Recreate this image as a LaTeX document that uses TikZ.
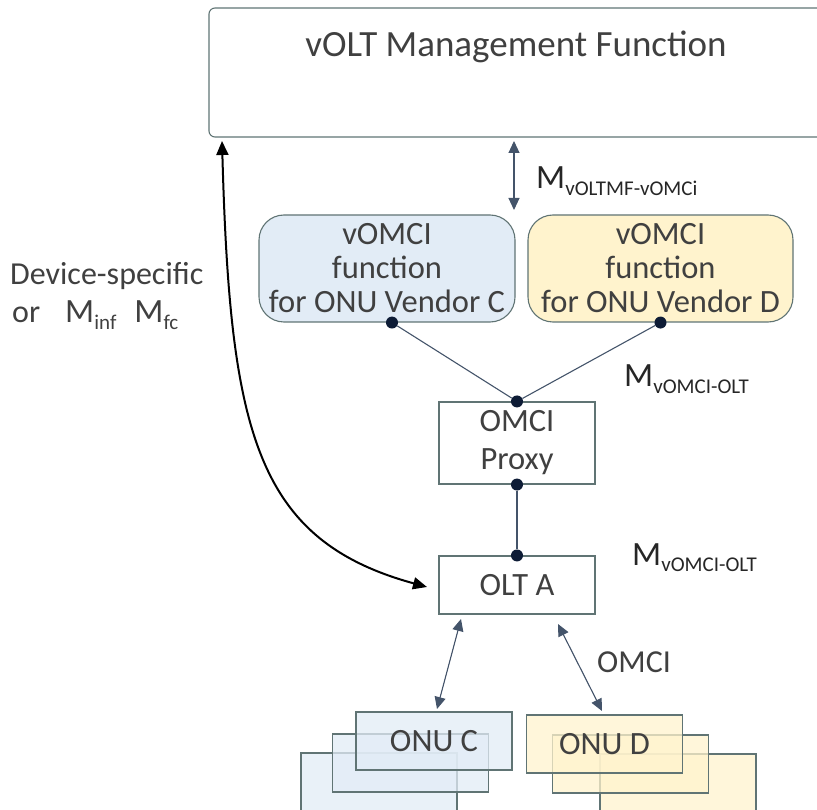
\documentclass[tikz,border=0pt]{standalone}
\usepackage{fontspec}
\setmainfont{Carlito}
\usepackage{tikz}
\usetikzlibrary{
	arrows.meta,
	positioning,
	calc
}
\definecolor{boxline}{RGB}{96,116,116}
\definecolor{bluefill}{RGB}{226,236,246}
\definecolor{yellowfill}{RGB}{255,243,205}
\definecolor{linkline}{RGB}{68,84,106}
\definecolor{navy}{RGB}{14,28,54}
\definecolor{txtgray}{RGB}{64,64,64}
\definecolor{txtdark}{RGB}{38,38,38}
% interface name with subscript
\newcommand{\ifname}[1]{M\raisebox{-0.2em}{\fontsize{21}{21}\selectfont #1}}

\begin{document}
\begin{tikzpicture}[
				x=1pt, y=-1pt,
				box/.style={
					rectangle, draw=boxline, line width=1.1pt,
					text=txtgray, align=center, inner sep=0pt,
					font=\fontsize{32.5}{38}\selectfont
				},
				vomcibox/.style={
					box, rounded corners=25pt,
					minimum width=256pt, minimum height=107pt,
					font=\fontsize{32.5}{34}\selectfont
				},
				smallbox/.style={
					box, fill=white,
					minimum width=156pt
				},
				onubox/.style={
					box, fill opacity=0.75, text opacity=1,
					minimum width=156pt, minimum height=58pt
				},
				dot/.style={
					circle, fill=navy, minimum size=12pt, inner sep=0pt
				},
				link/.style={draw=linkline, line width=1.1pt},
				dblarrow/.style={{Triangle[width=11pt,length=12pt]}-{Triangle[width=11pt,length=12pt]}, draw=linkline, fill=navy, line width=1.1pt},
				bigarrow/.style={{Triangle[width=12pt,length=14pt]}-{Triangle[width=12pt,length=14pt]}, black, line width=2pt},
				lbl/.style={anchor=base west, inner sep=0pt, text=txtdark,
					font=\fontsize{34}{37}\selectfont}
				]
				\useasboundingbox (0,0) rectangle (817,810);
				
				% vOLT management function
				\node[box, rounded corners=6pt, minimum width=626pt, minimum height=129pt] (mgmt) at (522,72.5) {};
				\node[anchor=base, inner sep=0pt, text=txtgray, font=\fontsize{37}{40}\selectfont] (mgmttitle) at (516,57) {vOLT Management Function};
				
				% vOMCI functions
				\node[vomcibox, fill=bluefill] (vomcic) at (387,268.5) {vOMCI\\function\\for ONU Vendor C};
				\node[vomcibox, fill=yellowfill, minimum width=265pt] (vomcid) at (660.5,268.5) {vOMCI\\function\\for ONU Vendor D};
				
				% proxy and OLT
				\node[smallbox, minimum height=82pt] (proxy) at (517,443) {OMCI\\Proxy};
				\node[smallbox, minimum height=58pt] (olt) at (517,585) {OLT A};
				
				% ONU stacks
				\node[onubox, fill=bluefill] (onuc3) at (379,782) {};
				\node[onubox, fill=bluefill] (onuc2) at (410.5,763) {};
				\node[onubox, fill=bluefill] (onuc) at (434,741) {ONU C};
				\node[onubox, fill=yellowfill] (onud3) at (678,783) {};
				\node[onubox, fill=yellowfill] (onud2) at (630.5,764) {};
				\node[onubox, fill=yellowfill] (onud) at (604.5,744) {ONU D};
				
				% connection points
				\node[dot] (dotc) at ([xshift=5pt]vomcic.south) {};
				\node[dot] (dotd) at (vomcid.south) {};
				\node[dot] (proxyin) at (proxy.north) {};
				\node[dot] (proxyout) at (proxy.south) {};
				\node[dot] (oltin) at (olt.north) {};
				
				% links
				\draw[link] (dotc) -- (proxyin);
				\draw[link] (dotd) -- (proxyin);
				\draw[link] (proxyout) -- (oltin);
				
				% arrow end points
				\coordinate (mftop) at (514,141);
				\coordinate (mfbot) at (514,210);
				\coordinate (devtop) at (222,141);
				\coordinate (devbot) at (427,587);
				\coordinate (oltc) at (461,619);
				\coordinate (onuctop) at (437,709);
				\coordinate (oltd) at (558,624);
				\coordinate (onudtop) at (602,711);
				
				% arrows
				\draw[dblarrow] (mftop) -- (mfbot);
				\draw[bigarrow] (devtop) .. controls (230,430) and (255,540) .. (devbot);
				\draw[dblarrow] (oltc) -- (onuctop);
				\draw[dblarrow] (oltd) -- (onudtop);
				
				% labels
				\node[lbl] (lblmf) at (536,189) {\ifname{vOLTMF-vOMCi}};
				\node[lbl] (lblvo1) at (624,387) {\ifname{vOMCI-OLT}};
				\node[lbl] (lblvo2) at (632,565) {\ifname{vOMCI-OLT}};
				\node[lbl, text=txtgray, font=\fontsize{32}{37}\selectfont] (lblomci) at (597,672) {OMCI};
				\node[lbl, text=txtgray, font=\fontsize{32}{37}\selectfont] (lbldev) at (10,285) {Device-specific};
				\node[lbl, text=txtgray] (lblor) at (12,323) {{\fontsize{32}{37}\selectfont or}\hspace{25pt}\ifname{inf}\hspace{18pt}\ifname{fc}};
			\end{tikzpicture}
\end{document}
